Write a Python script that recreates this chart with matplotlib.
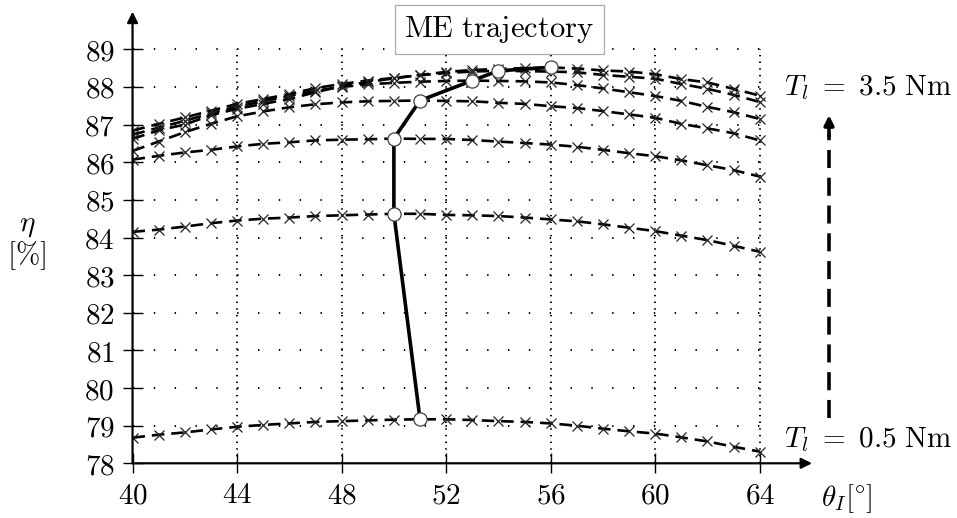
import matplotlib
matplotlib.use("Agg")
import matplotlib.pyplot as plt
import numpy as np

plt.rcParams['mathtext.fontset'] = 'cm'
plt.rcParams['lines.scale_dashes'] = False

theta = list(range(40, 65))
torque_labels = ["0.5", "1.0", "1.5", "2.0", "2.5", "3.0", "3.5"]

eta_05 = [78.68, 78.76, 78.82, 78.90, 78.97, 79.02, 79.06, 79.10, 79.12, 79.14, 79.16, 79.17, 79.17,
          79.15, 79.12, 79.10, 79.06, 79.00, 78.92, 78.85, 78.79, 78.69, 78.58, 78.44, 78.31]
eta_10 = [84.15, 84.21, 84.29, 84.38, 84.45, 84.50, 84.53, 84.57, 84.59, 84.61, 84.63, 84.63, 84.60,
          84.59, 84.57, 84.53, 84.48, 84.43, 84.35, 84.26, 84.17, 84.05, 83.93, 83.78, 83.62]
eta_15 = [86.07, 86.17, 86.26, 86.33, 86.42, 86.49, 86.53, 86.58, 86.60, 86.61, 86.63, 86.62, 86.62,
          86.59, 86.55, 86.51, 86.47, 86.41, 86.33, 86.24, 86.16, 86.05, 85.92, 85.79, 85.62]
eta_20 = [86.30, 86.55, 86.80, 87.02, 87.22, 87.35, 87.46, 87.54, 87.59, 87.62, 87.63, 87.64, 87.63,
          87.62, 87.58, 87.55, 87.49, 87.44, 87.36, 87.27, 87.18, 87.02, 86.90, 86.77, 86.58]
eta_25 = [86.73, 86.92, 87.10, 87.30, 87.48, 87.62, 87.76, 87.90, 88.00, 88.07, 88.11, 88.14, 88.16,
          88.17, 88.16, 88.15, 88.12, 88.05, 87.96, 87.86, 87.76, 87.63, 87.47, 87.33, 87.15]
eta_30 = [86.84, 87.02, 87.19, 87.37, 87.55, 87.68, 87.81, 87.97, 88.08, 88.17, 88.24, 88.31, 88.37,
          88.41, 88.43, 88.42, 88.41, 88.39, 88.32, 88.27, 88.22, 88.08, 87.95, 87.79, 87.60]
eta_35 = [86.62, 86.85, 87.00, 87.25, 87.42, 87.55, 87.68, 87.86, 88.02, 88.13, 88.23, 88.32, 88.40,
          88.45, 88.48, 88.50, 88.52, 88.49, 88.44, 88.41, 88.34, 88.21, 88.12, 87.95, 87.77]

traj_theta = [51, 50, 50, 51, 53, 54, 56]
traj_eta = [79.17, 84.63, 86.63, 87.64, 88.17, 88.43, 88.52]

xticks = [40, 44, 48, 52, 56, 60, 64]
yticks = list(range(78, 90))

fig = plt.figure(figsize=(9.57, 5.18), dpi=100)
ax = fig.add_axes([0.1385, 0.1056, 0.710, 0.8718])
ax.set_xlim(40, 66)
ax.set_ylim(78, 90)

# grid
for yv in yticks[1:]:
    ax.plot([40, 64], [yv, yv], color='black', lw=1.4, dashes=(1.0, 14.0),
            dash_capstyle='butt', zorder=1)
for xv in xticks[1:]:
    ax.plot([xv, xv], [78, 89], color='black', lw=1.4, dashes=(1.0, 3.8),
            dash_capstyle='butt', zorder=1)

for eta in [eta_05, eta_10, eta_15, eta_20, eta_25, eta_30, eta_35]:
    ax.plot(theta, eta, color='black', lw=1.9, dashes=(9, 5), marker='x',
            markersize=7.5, markeredgewidth=0.9, markeredgecolor='#222222', zorder=3)

ax.plot(traj_theta, traj_eta, color='black', lw=2.6, marker='o', markersize=9.5,
        markerfacecolor='white', markeredgecolor='#444444', markeredgewidth=0.9, zorder=5)

ax.text(54.04, 89.52, r'$\mathrm{ME\ trajectory}$', fontsize=22, ha='center', va='center',
        bbox=dict(boxstyle='square,pad=0.3', facecolor='white', edgecolor='#aaaaaa', lw=0.9),
        zorder=6)

# spines as arrows
for s in ['top', 'right', 'left', 'bottom']:
    ax.spines[s].set_visible(False)
ax.annotate('', xy=(66, 78), xytext=(40, 78),
            arrowprops=dict(arrowstyle='-|>', lw=1.6, color='black', mutation_scale=16,
                            shrinkA=0, shrinkB=0), annotation_clip=False, zorder=4)
ax.annotate('', xy=(40, 90), xytext=(40, 78),
            arrowprops=dict(arrowstyle='-|>', lw=1.6, color='black', mutation_scale=16,
                            shrinkA=0, shrinkB=0), annotation_clip=False, zorder=4)

ax.set_xticks(xticks)
ax.set_yticks(yticks)
ax.set_xticklabels([r'$%d$' % v for v in xticks])
ax.set_yticklabels([r'$%d$' % v for v in yticks])
ax.tick_params(axis='both', direction='inout', length=14, width=1.0, labelsize=21)
ax.tick_params(axis='x', pad=6)
ax.tick_params(axis='y', pad=6)

# torque annotations
ax.text(64.92, 87.98, r'$T_l\ =\ 3.5\ \mathrm{Nm}$', fontsize=21, ha='left', va='center',
        clip_on=False)
ax.text(64.92, 78.62, r'$T_l\ =\ 0.5\ \mathrm{Nm}$', fontsize=21, ha='left', va='center',
        clip_on=False)
ax.plot([66.65, 66.65], [79.2, 86.75], color='black', lw=2.6, dashes=(13, 7),
        dash_capstyle='butt', clip_on=False)
ax.annotate('', xy=(66.65, 87.25), xytext=(66.65, 86.7),
            arrowprops=dict(arrowstyle='-|>', lw=2.6, color='black',
                            mutation_scale=14, shrinkA=0, shrinkB=0),
            annotation_clip=False)

ax.text(66.35, 77.05, r'$\theta_I[\!{}^\circ\!]$', fontsize=21, ha='left', va='center', clip_on=False)
fig.text(0.028, 0.565, r'$\eta$', fontsize=21, ha='center', va='center')
fig.text(0.028, 0.507, r'$[\%]$', fontsize=21, ha='center', va='center')

fig.savefig('out.png', dpi=100)
